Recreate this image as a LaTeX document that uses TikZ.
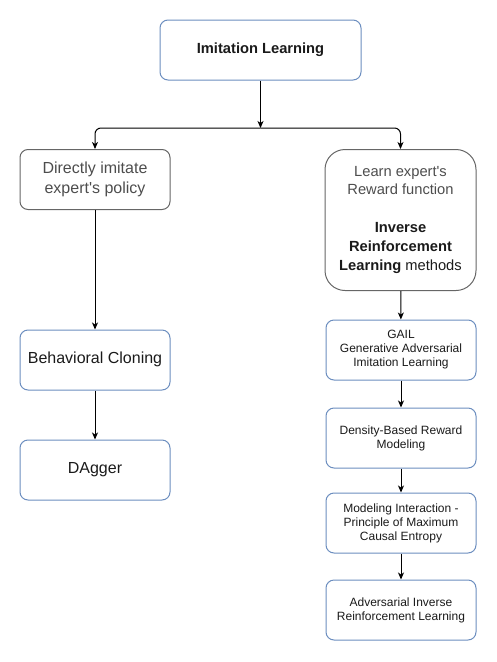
\documentclass[tikz,border=0pt]{standalone}
\usepackage{fontspec}
\setmainfont{Liberation Sans}
\usepackage{xcolor}
\definecolor{lineblue}{HTML}{6C8EBF}
\definecolor{linegray}{HTML}{666666}
\definecolor{softtext}{HTML}{4D4D4D}
\definecolor{darktext}{HTML}{1A1A1A}
\usetikzlibrary{positioning, arrows.meta}

\begin{document}
\begin{tikzpicture}[x=1pt, y=-1pt,
  box/.style={draw=lineblue, line width=1pt, rounded corners=8pt, align=center,
              minimum width=150pt, minimum height=60pt, inner sep=2pt, text=darktext},
  oneline/.style={text height=0.72em, text depth=0pt},
  bigtext/.style={font=\fontsize{16}{20}\selectfont},
  smalltext/.style={font=\fontsize{12}{14}\selectfont},
  flow/.style={draw=black, line width=1pt, -{Stealth[length=7pt, width=6pt, inset=2pt]}},
]
  \useasboundingbox (0,0) rectangle (497,662);

  % top of the tree
  \node[box, oneline, minimum width=201pt, font=\fontsize{14.7}{18}\selectfont\bfseries] (root) at (260.5,50) {Imitation Learning};

  % left branch
  \node[box, draw=linegray, text=softtext, bigtext] (direct) at (95,179.5) {Directly imitate\\expert\textquotesingle s policy};
  \node[box, oneline, bigtext] (bc) at (95,360) {Behavioral Cloning};
  \node[box, oneline, bigtext] (dagger) at (95,470) {DAgger};

  % right branch
  \node[box, draw=linegray, rounded corners=20pt, minimum width=151pt, minimum height=141pt,
        font=\fontsize{14.7}{19}\selectfont] (irl) at (400.5,220) {
    {\color{softtext}Learn expert\textquotesingle s}\\[-1.3pt]
    {\color{softtext}Reward function}\\[19pt]
    \textbf{Inverse}\\
    \textbf{Reinforcement}\\
    \textbf{Learning} methods
  };
  \node[box, smalltext] (gail) at (401,350) {GAIL\\Generative Adversarial\\Imitation Learning};
  \node[box, smalltext] (density) at (401,438) {Density-Based Reward\\Modeling};
  \node[box, smalltext] (maxent) at (401,523) {Modeling Interaction -\\Principle of Maximum\\Causal Entropy};
  \node[box, smalltext] (airl) at (401,610) {Adversarial Inverse\\Reinforcement Learning};

  % connectors
  \coordinate (split) at (260.5,128);
  \draw[flow] (root) -- (split);
  \draw[flow, rounded corners=6pt] (split) -| (direct.north);
  \draw[flow, rounded corners=6pt] (split) -| (irl.north);
  \draw[flow] (direct) -- (bc);
  \draw[flow] (bc) -- (dagger);
  \draw[flow] (irl) -- (gail);
  \draw[flow] (gail) -- (density);
  \draw[flow] (density) -- (maxent);
  \draw[flow] (maxent) -- (airl);
\end{tikzpicture}
\end{document}
